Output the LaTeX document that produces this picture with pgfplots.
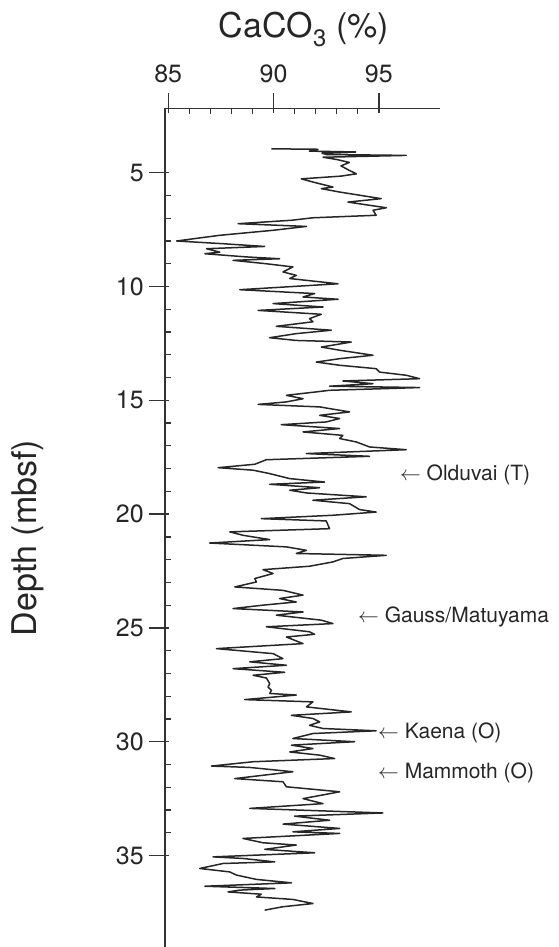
\documentclass[border=0pt]{standalone}
\usepackage{pgfplots}
\pgfplotsset{compat=1.18}
\usepackage{fontspec}
\setmainfont{TeX Gyre Heros}
\begin{document}
\begin{tikzpicture}
\useasboundingbox (-165pt,0pt) rectangle (393pt,947pt);
\begin{axis}[
  at={(0pt,0pt)}, anchor=south west,
  scale only axis, width=275pt, height=838.7pt,
  xmin=84.85, xmax=97.9, ymin=2.17, ymax=39.02,
  y dir=reverse,
  axis x line=top, axis y line=left,
  axis line style={-, line width=1.4pt, color=black!80},
  every inner x axis line/.append style={-},
  every outer x axis line/.append style={-},
  every inner y axis line/.append style={-},
  every outer y axis line/.append style={-},
  clip=false,
  xtick={85,90,95}, minor x tick num=4,
  ytick={5,10,15,20,25,30,35}, minor y tick num=4,
  tick align=outside,
  major tick length=20pt,
  minor tick length=6pt,
  tick style={line width=1.3pt, color=black!80},
  every major x tick/.append style={yshift=-5pt},
  every minor x tick/.append style={yshift=-6pt},
  every major y tick/.append style={xshift=4pt},
  every minor y tick/.append style={xshift=6pt},
  /pgf/number format/assume math mode=true,
  xticklabel style={font=\fontsize{25}{30}\selectfont, inner sep=5pt, text=black!85},
  yticklabel style={font=\fontsize{25}{30}\selectfont, inner sep=1pt, text=black!85},
]
\addplot[black!85, line width=1.5pt, line join=round] coordinates {
(89.90,3.95) (92.11,3.97) (91.70,4.05) (93.90,4.09) (92.30,4.14) (92.50,4.20)
(96.30,4.24) (92.35,4.32) (93.00,4.42) (93.60,4.55) (93.20,4.70) (93.60,4.90)
(93.93,5.05) (93.20,5.15) (91.32,5.27) (91.87,5.41) (92.82,5.63) (92.27,5.70)
(93.14,5.85) (95.11,6.14) (93.53,6.29) (95.35,6.54) (94.72,6.65) (94.87,6.87)
(91.87,6.98) (90.85,7.09) (88.32,7.24) (91.56,7.36) (89.98,7.53) (87.45,7.75)
(85.40,8.00) (87.61,8.12) (89.58,8.24) (86.82,8.34) (87.45,8.49) (86.74,8.56)
(88.71,8.70) (90.29,8.78) (88.08,8.85) (89.66,9.00) (90.92,9.14) (90.45,9.36)
(91.08,9.51) (90.77,9.65) (93.06,9.88) (88.40,10.14) (91.95,10.31) (91.40,10.46)
(93.06,10.56) (89.98,10.75) (92.35,10.90) (89.27,11.05) (92.27,11.22)
(91.71,11.41) (91.87,11.55) (90.13,11.75) (92.74,11.92) (91.08,12.07) (89.82,12.25)
(91.08,12.37) (93.69,12.44) (92.27,12.66) (93.14,12.80) (94.72,13.02) (93.14,13.17)
(92.03,13.32) (93.14,13.46) (94.87,13.61) (95.03,13.76) (96.30,13.90) (96.93,14.05)
(93.29,14.15) (94.72,14.27) (92.66,14.38) (96.93,14.44) (92.66,14.56) (92.03,14.63)
(90.61,14.78) (91.40,14.93) (90.61,15.07) (89.27,15.18) (92.19,15.29) (93.61,15.51)
(92.19,15.66) (93.14,15.80) (92.50,15.95) (90.37,16.07) (93.14,16.24) (91.40,16.39)
(93.29,16.54) (93.14,16.68) (93.93,16.83) (94.56,17.05) (96.30,17.17) (91.56,17.34)
(94.56,17.46) (89.66,17.61) (89.11,17.81) (87.37,17.96) (89.03,18.07) (89.82,18.22)
(90.77,18.44) (92.42,18.59) (89.82,18.69) (92.19,18.84) (90.77,18.95) (91.56,19.07)
(94.40,19.24) (91.87,19.39) (93.61,19.54) (94.08,19.80) (94.87,19.91) (92.82,20.05)
(89.42,20.20) (92.50,20.30) (92.66,20.64) (87.92,20.78) (88.55,20.93) (89.82,21.12)
(86.97,21.27) (90.61,21.44) (91.56,21.59) (91.08,21.73) (95.35,21.81) (93.29,21.95)
(92.82,22.10) (91.71,22.29) (89.50,22.44) (89.98,22.61) (89.11,22.83) (89.19,22.98)
(88.16,23.20) (90.45,23.35) (91.40,23.56) (90.29,23.71) (91.08,23.86) (89.50,24.00)
(88.08,24.15) (91.40,24.30) (90.13,24.44) (92.27,24.66) (92.82,24.81) (89.66,24.95)
(91.71,25.17) (91.95,25.28) (90.61,25.40) (91.40,25.69) (87.29,25.91) (89.98,26.13)
(90.45,26.35) (88.87,26.49) (90.61,26.64) (88.08,26.79) (90.53,26.95) (89.03,27.08)
(89.66,27.20) (89.82,27.45) (89.74,27.60) (89.90,27.74) (89.82,27.88) (91.08,27.95)
(88.63,28.15) (91.87,28.25) (91.56,28.47) (93.69,28.69) (90.85,28.84) (91.87,28.98)
(92.19,29.13) (91.71,29.28) (92.35,29.42) (94.87,29.52) (91.87,29.64) (90.92,29.86)
(93.85,30.00) (90.85,30.15) (91.87,30.30) (90.77,30.45) (92.19,30.59) (92.90,30.74)
(89.03,30.88) (87.05,31.07) (88.87,31.13) (90.92,31.32) (88.16,31.62) (90.45,31.76)
(90.61,31.98) (93.14,32.20) (91.40,32.50) (92.35,32.72) (88.87,32.93) (95.19,33.13)
(91.00,33.27) (92.66,33.45) (90.45,33.62) (93.14,33.81) (90.92,33.96) (93.14,34.03)
(88.55,34.25) (89.50,34.44) (91.08,34.54) (89.58,34.73) (91.95,34.88) (87.13,35.06)
(88.55,35.13) (90.06,35.28) (87.61,35.35) (86.50,35.57) (87.92,35.72) (88.24,35.86)
(89.19,36.05) (90.85,36.20) (86.74,36.35) (90.06,36.45) (88.40,36.52) (87.84,36.60)
(89.42,36.70) (89.19,36.82) (90.92,36.93) (91.87,37.11) (90.45,37.25) (89.58,37.40)
};
\begin{scope}[every node/.style={anchor=west, inner sep=0pt, text=black!85, font=\fontsize{21}{25}\selectfont}]
\node at (axis cs:96.00,18.28) {$\leftarrow$ Olduvai (T)};
\node at (axis cs:94.01,24.52) {$\leftarrow$ Gauss/Matuyama};
\node at (axis cs:94.96,29.61) {$\leftarrow$ Kaena (O)};
\node at (axis cs:94.96,31.37) {$\leftarrow$ Mammoth (O)};
\end{scope}
\end{axis}
\node[anchor=base, text=black!85, font=\fontsize{34}{40}\selectfont] at (139pt,909pt) {CaCO\textsubscript{3} (\%)};
\node[rotate=90, text=black!85, font=\fontsize{34}{40}\selectfont] at (-137pt,409pt) {Depth (mbsf)};
\end{tikzpicture}
\end{document}
